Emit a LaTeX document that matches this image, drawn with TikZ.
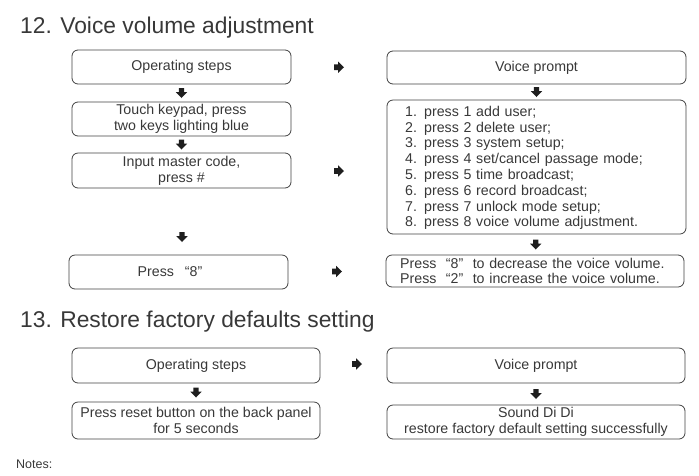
\documentclass[tikz,border=0pt]{standalone}
\usepackage{fontspec}
\setmainfont{Liberation Sans}
\usetikzlibrary{calc}
\definecolor{txt}{HTML}{383838}
\definecolor{linec}{HTML}{404040}
\definecolor{arrc}{HTML}{1E1E1E}
\tikzset{
  box/.style={draw=linec, rounded corners=6pt, line width=0.8pt, inner sep=0pt,
    font=\fontsize{14.2}{16}\selectfont, text=txt, align=center},
  lst/.style={inner sep=0pt, font=\fontsize{14.2}{15.8}\selectfont, text=txt, align=left},
  ttl/.style={anchor=base west, inner sep=0pt, text=txt, font=\fontsize{22.8}{26}\selectfont},
  darr/.pic={\fill[arrc] (-2.6,-5) -- (2.6,-5) -- (2.6,-0.8) -- (5.6,-0.8) -- (0,5) -- (-5.6,-0.8) -- (-2.6,-0.8) -- cycle;},
  rarr/.pic={\fill[arrc] (-5,-2.8) -- (-0.8,-2.8) -- (-0.8,-5.6) -- (5,0) -- (-0.8,5.6) -- (-0.8,2.8) -- (-5,2.8) -- cycle;}
}
\begin{document}
\begin{tikzpicture}[x=1pt,y=-1pt]
\useasboundingbox (0,0) rectangle (699,475);
\node[ttl] (t12) at (20,33) {12. Voice volume adjustment};
% left column, section 12
\node[box, minimum width=219pt, minimum height=34pt] (b1) at (181.5,67) {Operating steps};
\node[box, minimum width=219pt, minimum height=34pt] (b2) at (181.5,119) {Touch keypad, press\\two keys lighting blue};
\node[box, minimum width=219pt, minimum height=35pt] (b3) at (181.5,170.5) {Input master code,\\press \#};
\node[box, minimum width=219pt, minimum height=34pt] (b4) at (178.5,272) {};
\node[lst, anchor=west] (b4t) at (137.5,272) {Press\hspace{11pt}“8”};
% right column, section 12
\node[box, minimum width=299pt, minimum height=33pt] (r1) at (536.5,67.5) {Voice prompt};
\node[box, minimum width=299pt, minimum height=134pt] (r2) at (536.5,167) {};
\node[lst, anchor=west, text width=250pt] (r2t) at (405,168)
  {1. press 1 add user;\\2. press 2 delete user;\\3. press 3 system setup;\\4. press 4 set/cancel passage mode;\\5. press 5 time broadcast;\\6. press 6 record broadcast;\\7. press 7 unlock mode setup;\\8. press 8 voice volume adjustment.};
\node[box, minimum width=298pt, minimum height=32pt] (r3) at (535,271) {};
\node[lst, anchor=west, text width=280pt] (r3t) at (400,271)
  {Press\ \ “8”\ \ to decrease the voice volume.\\Press\ \ “2”\ \ to increase the voice volume.};
% arrows section 12
\pic at ($(b1.south)!0.5!(b2.north)$) {darr};
\pic at ($(b2.south)!0.5!(b3.north)$) {darr};
\pic at (182,237) {darr};
\pic at ($(r1.south)!0.5!(r2.north)$) {darr};
\pic at ($(r2.south)!0.5!(r3.north)$) {darr};
\pic at ($(b1.east)!0.5!(r1.west)$) {rarr};
\pic at (339,171) {rarr};
\pic at ($(b4.east)!0.5!(r3.west)$) {rarr};
% section 13
\node[ttl] (t13) at (20,327) {13. Restore factory defaults setting};
\node[box, minimum width=248pt, minimum height=35pt] (c1) at (196,365.5) {Operating steps};
\node[box, minimum width=248pt, minimum height=37pt] (c2) at (196,420.5) {Press reset button on the back panel\\for 5 seconds};
\node[box, minimum width=298pt, minimum height=35pt] (d1) at (536,365.5) {Voice prompt};
\node[box, minimum width=298pt, minimum height=34pt] (d2) at (536,422) {Sound Di Di\\restore factory default setting successfully};
\pic at ($(c1.south)!0.5!(c2.north)$) {darr};
\pic at ($(d1.south)!0.5!(d2.north)$) {darr};
\pic at (357,364) {rarr};
\node[anchor=base west, inner sep=0pt, text=txt, font=\fontsize{12.5}{14}\selectfont] (notes) at (16,468) {Notes:};
\end{tikzpicture}
\end{document}
